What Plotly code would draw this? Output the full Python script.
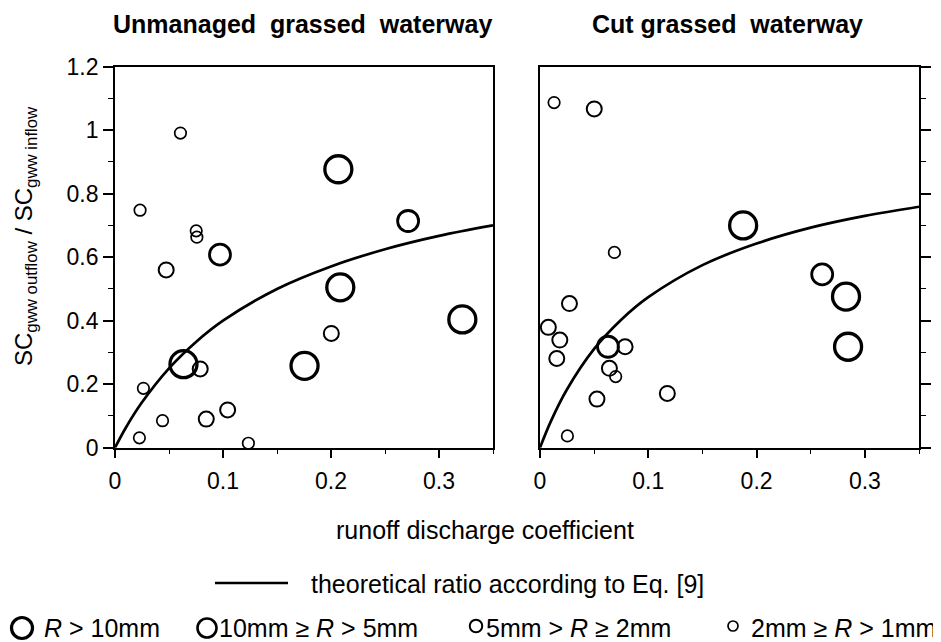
import plotly.graph_objects as go

# ---------------- data ----------------
# size class: 1 = R > 10mm, 2 = 10mm >= R > 5mm, 3 = 5mm > R >= 2mm, 4 = 2mm >= R > 1mm
left_x = [0.0606, 0.0232, 0.0752, 0.0758, 0.0972, 0.0474, 0.2068, 0.2714, 0.2086, 0.3216,
          0.2003, 0.1755, 0.0634, 0.0789, 0.0263, 0.1043, 0.0845, 0.0440, 0.0226, 0.1235]
left_y = [0.991, 0.748, 0.683, 0.663, 0.608, 0.560, 0.877, 0.714, 0.505, 0.404,
          0.360, 0.258, 0.263, 0.248, 0.187, 0.119, 0.090, 0.085, 0.031, 0.014]
left_cls = [4, 4, 4, 4, 2, 3, 1, 2, 1, 1,
            3, 1, 1, 3, 4, 3, 3, 4, 4, 4]

right_x = [0.0130, 0.0501, 0.0687, 0.1876, 0.2606, 0.2826, 0.2845, 0.0272, 0.0077,
           0.0183, 0.0155, 0.0628, 0.0786, 0.0641, 0.0699, 0.0526, 0.1176, 0.0253]
right_y = [1.087, 1.067, 0.615, 0.700, 0.546, 0.476, 0.318, 0.454, 0.379,
           0.339, 0.281, 0.318, 0.318, 0.250, 0.224, 0.153, 0.171, 0.037]
right_cls = [4, 3, 4, 1, 2, 1, 1, 3, 3,
             3, 3, 2, 3, 3, 4, 3, 3, 4]

# theoretical ratio curves (Eq. [9])
curve_x = [0, 0.01, 0.025, 0.05, 0.075, 0.1, 0.15, 0.2, 0.25, 0.3, 0.35]
curve_left_y = [0, 0.063, 0.143, 0.250, 0.333, 0.400, 0.500, 0.571, 0.625, 0.667, 0.700]
curve_right_y = [0, 0.083, 0.184, 0.311, 0.403, 0.474, 0.575, 0.643, 0.693, 0.730, 0.759]

x_ticks = [0, 0.1, 0.2, 0.3]
x_tick_labels = ["0", "0.1", "0.2", "0.3"]
y_ticks = [0, 0.2, 0.4, 0.6, 0.8, 1.0, 1.2]
y_tick_labels = ["0", "0.2", "0.4", "0.6", "0.8", "1", "1.2"]

titles = ["Unmanaged  grassed  waterway", "Cut grassed  waterway"]
x_title = "runoff discharge coefficient"
y_title = "SC<sub>gww outflow</sub> / SC<sub>gww inflow</sub>"
line_legend = "theoretical ratio according to Eq. [9]"
class_labels = ["<i>R</i> > 10mm", "10mm ≥ <i>R</i> > 5mm",
                "5mm > <i>R</i> ≥ 2mm", "2mm ≥ <i>R</i> > 1mm"]

# ---------------- styling ----------------
OFF = 8                      # page body margin
W, H = 941 - OFF, 642 - OFF  # figure fits the window exactly
FONT = "Liberation Sans, Arial, sans-serif"
size_of = {1: 27, 2: 21, 3: 15, 4: 11.5}
lw_of = {1: 3.3, 2: 2.8, 3: 2.0, 4: 1.7}


def px(p):
    return (p - OFF) / W


def py(p):
    return 1 - (p - OFF) / H


fig = go.Figure()

for xa, ya, cy, xs, ys, cls in [
    ("x", "y", curve_left_y, left_x, left_y, left_cls),
    ("x2", "y2", curve_right_y, right_x, right_y, right_cls),
]:
    fig.add_trace(go.Scatter(
        x=curve_x, y=cy, mode="lines", xaxis=xa, yaxis=ya,
        line=dict(color="black", width=2.7, shape="spline"),
        showlegend=False, hoverinfo="skip"))
    fig.add_trace(go.Scatter(
        x=xs, y=ys, mode="markers", xaxis=xa, yaxis=ya, cliponaxis=False,
        marker=dict(symbol="circle-open", color="black", opacity=1,
                    size=[size_of[c] for c in cls],
                    line=dict(color="black", width=[lw_of[c] for c in cls])),
        showlegend=False))

plot_top, plot_bot = 66.7, 447.7
ydom = [py(plot_bot), py(plot_top)]

common_x = dict(range=[0, 0.35], tickvals=x_ticks, ticktext=x_tick_labels,
                ticks="outside", ticklen=8, tickwidth=1.6, tickcolor="black",
                showline=True, linewidth=1.8, linecolor="black", mirror=True,
                showgrid=False, zeroline=False, automargin=False,
                tickfont=dict(family=FONT, size=23, color="black"),
                ticklabelstandoff=4,
                minor=dict(dtick=0.05, tick0=0, ticks="outside", ticklen=4,
                           tickwidth=1.3, tickcolor="black", showgrid=False))
common_y = dict(range=[0, 1.2], tickvals=y_ticks,
                ticks="outside", ticklen=10, tickwidth=1.6, tickcolor="black",
                showline=True, linewidth=1.8, linecolor="black", mirror=True,
                showgrid=False, zeroline=False, automargin=False,
                minor=dict(dtick=0.1, tick0=0, ticks="outside", ticklen=5,
                           tickwidth=1.3, tickcolor="black", showgrid=False))

fig.update_layout(
    template="none",
    width=W, height=H,
    margin=dict(l=0, r=0, t=0, b=0, autoexpand=False),
    paper_bgcolor="white", plot_bgcolor="white",
    showlegend=False,
    font=dict(family=FONT, color="black"),
    xaxis=dict(domain=[px(115), px(493)], anchor="y", **common_x),
    yaxis=dict(domain=ydom, anchor="x", side="left", ticktext=y_tick_labels,
               tickfont=dict(family=FONT, size=23, color="black"), **common_y),
    xaxis2=dict(domain=[px(540), px(919)], anchor="y2", **common_x),
    yaxis2=dict(domain=ydom, anchor="x2", side="right", showticklabels=False,
                **common_y),
)

ann = []
# panel titles
for t, cx in zip(titles, [302, 727]):
    ann.append(dict(text=f"<b>{t}</b>", x=px(cx), y=py(24), xref="paper", yref="paper",
                    xanchor="center", yanchor="middle", showarrow=False,
                    font=dict(family=FONT, size=25, color="black")))
# x axis title
ann.append(dict(text=x_title, x=px(485), y=py(530), xref="paper", yref="paper",
                xanchor="center", yanchor="middle", showarrow=False,
                font=dict(family=FONT, size=25, color="black")))
# y axis title
ann.append(dict(text=y_title, x=px(25), y=py(236), xref="paper", yref="paper",
                xanchor="center", yanchor="middle", showarrow=False, textangle=-90,
                font=dict(family=FONT, size=24, color="black")))
# legend row 1
ann.append(dict(text=line_legend, x=px(309), y=py(584), xref="paper", yref="paper",
                xanchor="left", yanchor="middle", showarrow=False,
                font=dict(family=FONT, size=25, color="black")))
# legend row 2
leg_text_x = [42, 217, 484, 749]
for lab, lx in zip(class_labels, leg_text_x):
    ann.append(dict(text=lab, x=px(lx), y=py(628), xref="paper", yref="paper",
                    xanchor="left", yanchor="middle", showarrow=False,
                    font=dict(family=FONT, size=25, color="black")))

shapes = [dict(type="line", xref="paper", yref="paper",
               x0=px(215), x1=px(288), y0=py(583), y1=py(583),
               line=dict(color="black", width=2.7))]
leg_circ = [(22, 628, 21, 3.2), (207, 628, 19, 2.6), (476, 626, 12.5, 2.0), (733, 626, 10, 1.7)]
for cx, cy, d, w in leg_circ:
    shapes.append(dict(type="circle", xref="paper", yref="paper",
                       xsizemode="pixel", ysizemode="pixel",
                       xanchor=px(cx), yanchor=py(cy),
                       x0=-d / 2, x1=d / 2, y0=-d / 2, y1=d / 2,
                       line=dict(color="black", width=w)))

fig.update_layout(annotations=ann, shapes=shapes)
fig.write_html("out.html")
